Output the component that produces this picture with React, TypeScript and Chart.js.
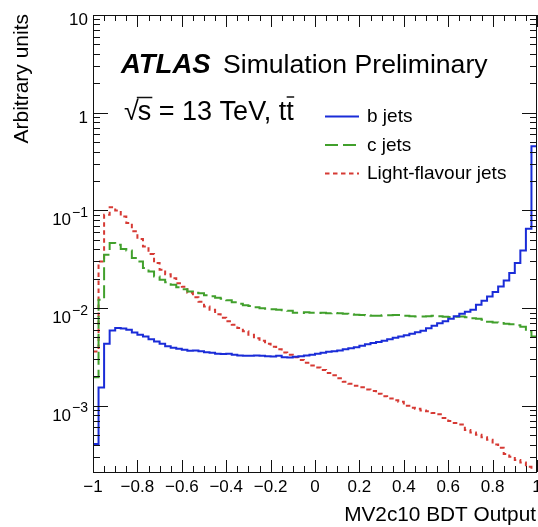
import React, { useEffect, useRef } from "react";
import { Chart, registerables } from "chart.js";
Chart.register(...registerables);

const X_MIN = -1;
const X_MAX = 1;
const BIN_WIDTH = 0.025;
const Y_MIN = 2.1e-4;
const Y_MAX = 10;

const bJets = [
  4.07e-4, 1.54e-3, 4.31e-3, 5.89e-3, 6.24e-3, 6.18e-3, 6.0e-3, 5.62e-3, 5.33e-3, 5.12e-3,
  4.81e-3, 4.55e-3, 4.31e-3, 4.06e-3, 3.92e-3, 3.83e-3, 3.74e-3, 3.65e-3, 3.68e-3, 3.61e-3,
  3.54e-3, 3.48e-3, 3.4e-3, 3.38e-3, 3.4e-3, 3.32e-3, 3.28e-3, 3.25e-3, 3.25e-3, 3.28e-3,
  3.26e-3, 3.21e-3, 3.19e-3, 3.25e-3, 3.13e-3, 3.12e-3, 3.17e-3, 3.21e-3, 3.28e-3, 3.32e-3,
  3.4e-3, 3.48e-3, 3.57e-3, 3.61e-3, 3.68e-3, 3.78e-3, 3.89e-3, 3.98e-3, 4.11e-3, 4.26e-3,
  4.38e-3, 4.5e-3, 4.62e-3, 4.79e-3, 4.96e-3, 5.12e-3, 5.26e-3, 5.45e-3, 5.65e-3, 5.85e-3,
  6.21e-3, 6.59e-3, 6.99e-3, 7.33e-3, 7.77e-3, 8.24e-3, 8.74e-3, 9.17e-3, 9.61e-3, 1.08e-2,
  1.19e-2, 1.315e-2, 1.46e-2, 1.66e-2, 1.92e-2, 2.28e-2, 2.89e-2, 3.89e-2, 6.49e-2, 0.453,
];

const cJets = [
  1.96e-3, 1.216e-2, 3.52e-2, 4.63e-2, 4.45e-2, 4.02e-2, 3.89e-2, 3.25e-2, 3.0e-2, 2.57e-2,
  2.37e-2, 2.11e-2, 1.95e-2, 1.84e-2, 1.73e-2, 1.63e-2, 1.56e-2, 1.48e-2, 1.435e-2, 1.42e-2,
  1.35e-2, 1.32e-2, 1.275e-2, 1.245e-2, 1.2e-2, 1.15e-2, 1.11e-2, 1.07e-2, 1.05e-2, 1.02e-2,
  9.95e-3, 9.84e-3, 9.72e-3, 9.61e-3, 9.5e-3, 9.38e-3, 8.95e-3, 8.9e-3, 9.05e-3, 8.95e-3,
  8.9e-3, 8.95e-3, 8.85e-3, 8.9e-3, 8.85e-3, 8.74e-3, 8.65e-3, 8.54e-3, 8.5e-3, 8.45e-3,
  8.34e-3, 8.34e-3, 8.45e-3, 8.45e-3, 8.48e-3, 8.48e-3, 8.34e-3, 8.24e-3, 8.2e-3, 8.2e-3,
  8.24e-3, 8.34e-3, 8.24e-3, 8.15e-3, 8.09e-3, 8.15e-3, 8.18e-3, 8.05e-3, 7.86e-3, 7.77e-3,
  7.59e-3, 7.24e-3, 7.13e-3, 7.02e-3, 6.91e-3, 6.83e-3, 6.67e-3, 6.43e-3, 5.75e-3, 5.12e-3,
];

const lightJets = [
  3.59e-3, 3.0e-2, 9.04e-2, 0.108, 0.1, 8.68e-2, 7.43e-2, 6.1e-2, 5.09e-2, 4.28e-2,
  3.57e-2, 2.89e-2, 2.47e-2, 2.22e-2, 2.02e-2, 1.795e-2, 1.65e-2, 1.435e-2, 1.29e-2, 1.16e-2,
  1.04e-2, 9.61e-3, 8.64e-3, 7.95e-3, 7.33e-3, 6.75e-3, 6.24e-3, 5.78e-3, 5.33e-3, 4.9e-3,
  4.62e-3, 4.31e-3, 4.01e-3, 3.78e-3, 3.52e-3, 3.32e-3, 3.13e-3, 2.95e-3, 2.75e-3, 2.59e-3,
  2.47e-3, 2.33e-3, 2.17e-3, 2.05e-3, 1.91e-3, 1.76e-3, 1.68e-3, 1.6e-3, 1.545e-3, 1.47e-3,
  1.42e-3, 1.325e-3, 1.25e-3, 1.19e-3, 1.136e-3, 1.1e-3, 9.98e-4, 9.52e-4, 9.3e-4, 8.97e-4,
  8.77e-4, 8.46e-4, 8.17e-4, 7.52e-4, 7.0e-4, 6.68e-4, 6.45e-4, 5.66e-4, 5.34e-4, 5.04e-4,
  4.75e-4, 4.48e-4, 4.02e-4, 3.71e-4, 3.21e-4, 3.0e-4, 2.79e-4, 2.63e-4, 2.37e-4, 1.5e-4,
];

const xTicks = [-1, -0.8, -0.6, -0.4, -0.2, 0, 0.2, 0.4, 0.6, 0.8, 1];
const xTickLabels = ["\u22121", "\u22120.8", "\u22120.6", "\u22120.4", "\u22120.2", "0", "0.2", "0.4", "0.6", "0.8", "1"];
const X_MINOR_STEP = 0.05;
const yTicks = [1e-3, 1e-2, 1e-1, 1, 10];
const yTickBases = ["10", "10", "10", "1", "10"];
const yTickExps = ["\u22123", "\u22122", "\u22121", "", ""];

const seriesNames = ["b jets", "c jets", "Light-flavour jets"];
const BLUE = "#1a2cd8";
const GREEN = "#41a02c";
const RED = "#d63a34";
const seriesColors = [BLUE, GREEN, RED];
const seriesDashes: number[][] = [[], [13, 5], [4.5, 3.5]];

const FONT = "'Liberation Sans', Arial, Helvetica, sans-serif";

function toPoints(vals: number[]) {
  const pts = vals.map((v, i) => ({ x: X_MIN + i * BIN_WIDTH, y: v }));
  pts.push({ x: X_MAX, y: vals[vals.length - 1] });
  return pts;
}

const decor = {
  id: "decor",
  afterDraw(chart: any) {
    const { ctx, chartArea: a, scales } = chart;
    const xs = scales.x;
    const ys = scales.y;
    ctx.save();
    // frame
    ctx.strokeStyle = "#111";
    ctx.lineWidth = 1;
    ctx.setLineDash([]);
    ctx.strokeRect(Math.round(a.left) + 0.5, Math.round(a.top) + 0.5, Math.round(a.right - a.left) - 1, Math.round(a.bottom - a.top));

    // x ticks
    const nMinor = Math.round((X_MAX - X_MIN) / X_MINOR_STEP);
    ctx.beginPath();
    for (let k = 0; k <= nMinor; k++) {
      const v = X_MIN + k * X_MINOR_STEP;
      const px = Math.round(xs.getPixelForValue(v)) + 0.5;
      const len = k % 4 === 0 ? 12 : 6;
      ctx.moveTo(px, a.bottom);
      ctx.lineTo(px, a.bottom - len);
      ctx.moveTo(px, a.top);
      ctx.lineTo(px, a.top + len);
    }
    // y ticks
    for (let d = -4; d <= 1; d++) {
      for (let m = 1; m <= 9; m++) {
        const v = m * Math.pow(10, d);
        if (v < Y_MIN * 0.999 || v > Y_MAX * 1.001) continue;
        const py = Math.round(ys.getPixelForValue(v)) + 0.5;
        const len = m === 1 ? 15 : 7;
        ctx.moveTo(a.left, py);
        ctx.lineTo(a.left + len, py);
        ctx.moveTo(a.right, py);
        ctx.lineTo(a.right - len, py);
      }
    }
    ctx.stroke();

    ctx.fillStyle = "#000";
    // x tick labels
    ctx.font = `17px ${FONT}`;
    ctx.textAlign = "center";
    ctx.textBaseline = "alphabetic";
    xTicks.forEach((v, i) => {
      ctx.fillText(xTickLabels[i], xs.getPixelForValue(v), a.bottom + 20);
    });
    // y tick labels
    yTicks.forEach((v, i) => {
      const py = ys.getPixelForValue(v);
      const right = a.left - 5;
      if (yTickExps[i]) {
        ctx.font = `14px ${FONT}`;
        ctx.textAlign = "right";
        const ew = ctx.measureText(yTickExps[i]).width;
        ctx.fillText(yTickExps[i], right, py + 6.5);
        ctx.font = `17px ${FONT}`;
        ctx.fillText(yTickBases[i], right - ew - 1, py + 15);
      } else {
        ctx.font = `17px ${FONT}`;
        ctx.textAlign = "right";
        ctx.fillText(yTickBases[i], right, py + 10);
      }
    });

    // axis titles
    ctx.font = `20.8px ${FONT}`;
    ctx.textAlign = "right";
    ctx.fillText("MV2c10 BDT Output", a.right - 1, a.bottom + 49);
    ctx.save();
    ctx.translate(28, a.top - 1);
    ctx.rotate(-Math.PI / 2);
    ctx.textAlign = "right";
    ctx.font = `21px ${FONT}`;
    ctx.fillText("Arbitrary units", 0, 0);
    ctx.restore();

    // ATLAS label
    ctx.textAlign = "left";
    ctx.font = `italic bold 27.5px ${FONT}`;
    ctx.fillText("ATLAS", 121, 73);
    ctx.font = `26.6px ${FONT}`;
    ctx.fillText("Simulation Preliminary", 223, 73);

    // sqrt(s) = 13 TeV, t tbar
    let cx = 124;
    const by = 120;
    ctx.font = `27px ${FONT}`;
    ctx.fillText("\u221A", cx, by);
    cx += ctx.measureText("\u221A").width - 1;
    const sw = ctx.measureText("s").width;
    ctx.fillText("s", cx, by);
    ctx.beginPath();
    ctx.lineWidth = 1.5;
    ctx.moveTo(cx - 1, by - 22.5);
    ctx.lineTo(cx + sw + 1, by - 22.5);
    ctx.stroke();
    cx += sw;
    const mid = " = 13 TeV, t";
    ctx.fillText(mid, cx, by);
    cx += ctx.measureText(mid).width;
    const tw = ctx.measureText("t").width;
    ctx.fillText("t", cx, by);
    ctx.beginPath();
    ctx.moveTo(cx + 0.5, by - 23);
    ctx.lineTo(cx + tw + 0.5, by - 23);
    ctx.stroke();

    // legend
    const rows = [116.5, 145, 173.5];
    ctx.font = `19px ${FONT}`;
    seriesNames.forEach((name, i) => {
      ctx.beginPath();
      ctx.strokeStyle = seriesColors[i];
      ctx.lineWidth = 2;
      ctx.setLineDash(seriesDashes[i]);
      ctx.moveTo(325, rows[i]);
      ctx.lineTo(359, rows[i]);
      ctx.stroke();
      ctx.setLineDash([]);
      ctx.fillStyle = "#000";
      ctx.textAlign = "left";
      ctx.fillText(name, 367, rows[i] + 5.5);
    });
    ctx.restore();
  },
};

export default function App() {
  const ref = useRef<HTMLCanvasElement>(null);
  useEffect(() => {
    document.body.style.margin = "0";
    const canvas = ref.current!;
    const series = [bJets, cJets, lightJets];
    const chart = new Chart(canvas, {
      type: "line",
      data: {
        datasets: series.map((vals, i) => ({
          label: seriesNames[i],
          data: toPoints(vals),
          borderColor: seriesColors[i],
          borderWidth: 2,
          borderDash: seriesDashes[i],
          stepped: "before" as const,
          pointRadius: 0,
          fill: false,
          tension: 0,
        })),
      },
      options: {
        responsive: false,
        animation: false,
        events: [],
        layout: { padding: { left: 93, right: 1, top: 15, bottom: 55 } },
        plugins: { legend: { display: false }, tooltip: { enabled: false } },
        scales: {
          x: { type: "linear", min: X_MIN, max: X_MAX, display: false },
          y: { type: "logarithmic", min: Y_MIN, max: Y_MAX, display: false },
        },
      },
      plugins: [decor],
    } as any);
    return () => chart.destroy();
  }, []);
  return <canvas ref={ref} width={538} height={527} style={{ display: "block" }} />;
}
